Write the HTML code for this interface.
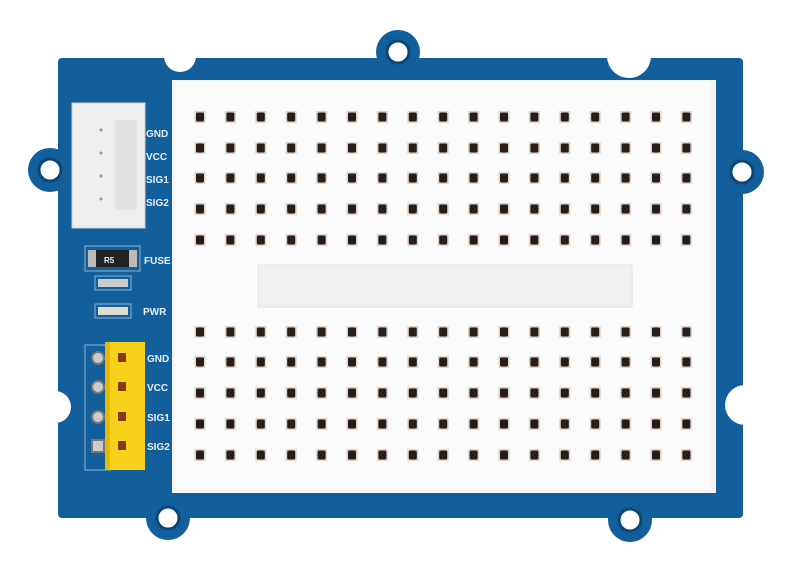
<!DOCTYPE html>
<html><head><meta charset="utf-8"><style>
html,body{margin:0;padding:0;background:#fff;}
svg{display:block}
text{font-family:"Liberation Sans",sans-serif;font-weight:bold;fill:#e8eef4;font-size:10px}
</style></head><body>
<svg width="800" height="578" viewBox="0 0 800 578" xmlns="http://www.w3.org/2000/svg">
<defs>
<g id="h"><rect x="-5.5" y="-6" width="11" height="12" fill="#d8d4cf"/><rect x="-4" y="-4.5" width="8" height="9" rx="1.5" fill="#2a1d16"/></g>
<g id="row">
<use href="#h" x="200"/><use href="#h" x="230.4"/><use href="#h" x="260.8"/><use href="#h" x="291.2"/><use href="#h" x="321.6"/><use href="#h" x="352"/><use href="#h" x="382.4"/><use href="#h" x="412.8"/><use href="#h" x="443.2"/><use href="#h" x="473.6"/><use href="#h" x="504"/><use href="#h" x="534.4"/><use href="#h" x="564.8"/><use href="#h" x="595.2"/><use href="#h" x="625.6"/><use href="#h" x="656"/><use href="#h" x="686.4"/>
</g>
</defs>
<g fill="#125f9c">
<circle cx="398" cy="52" r="22"/><circle cx="50" cy="170" r="22"/><circle cx="742" cy="172" r="22"/>
<circle cx="168" cy="518" r="22"/><circle cx="630" cy="520" r="22"/>
</g>
<rect x="58" y="58" width="685" height="460" rx="4" fill="#125f9c"/>
<g fill="#fff">
<circle cx="629" cy="56" r="22"/><circle cx="180" cy="56" r="16"/>
<circle cx="745" cy="405" r="20"/><circle cx="55" cy="407" r="16"/>
</g>
<g fill="#fff" stroke="#0a4676" stroke-width="3">
<circle cx="398" cy="52" r="11"/><circle cx="50" cy="170" r="11"/><circle cx="742" cy="172" r="11"/>
<circle cx="168" cy="518" r="11"/><circle cx="630" cy="520" r="11"/>
</g>
<rect x="172" y="80" width="544" height="413" fill="#f4f4f4"/>
<rect x="175" y="82" width="536" height="408" fill="#fbfbfb"/>
<rect x="258" y="265" width="374" height="42" fill="#f0f0f0" stroke="#e2e2e2"/>
<g>
<use href="#row" y="117"/><use href="#row" y="148"/><use href="#row" y="178"/><use href="#row" y="209"/><use href="#row" y="240"/>
<use href="#row" y="332"/><use href="#row" y="362"/><use href="#row" y="393"/><use href="#row" y="424"/><use href="#row" y="455"/>
</g>
<rect x="72" y="103" width="73" height="125" fill="#eeeeee" stroke="#cfcfcf"/>
<rect x="115" y="120" width="22" height="90" fill="#e2e2e2"/>
<g fill="#999"><circle cx="101" cy="130" r="1.5"/><circle cx="101" cy="153" r="1.5"/><circle cx="101" cy="176" r="1.5"/><circle cx="101" cy="199" r="1.5"/></g>
<text x="146" y="137">GND</text><text x="146" y="160">VCC</text><text x="146" y="183">SIG1</text><text x="146" y="206">SIG2</text>
<rect x="85" y="246" width="55" height="25" fill="none" stroke="#8fb2cf"/>
<rect x="88" y="250" width="49" height="17" fill="#222"/>
<rect x="88" y="250" width="8" height="17" fill="#bbb"/><rect x="129" y="250" width="8" height="17" fill="#bbb"/>
<text x="104" y="263" style="font-size:8px">R5</text>
<text x="144" y="264">FUSE</text>
<rect x="95" y="276" width="36" height="14" fill="none" stroke="#8fb2cf"/>
<rect x="98" y="279" width="30" height="8" fill="#ccc"/>
<rect x="95" y="304" width="36" height="14" fill="none" stroke="#8fb2cf"/>
<rect x="98" y="307" width="30" height="8" fill="#e0ddd0"/>
<text x="143" y="315">PWR</text>
<rect x="85" y="345" width="25" height="125" fill="none" stroke="#8fb2cf"/>
<g fill="#ccc" stroke="#777" stroke-width="2"><circle cx="98" cy="358" r="6"/><circle cx="98" cy="387" r="6"/><circle cx="98" cy="417" r="6"/><rect x="92" y="440" width="12" height="12"/></g>
<rect x="105" y="342" width="40" height="128" fill="#f7d21c"/>
<rect x="105" y="342" width="5" height="128" fill="#e6b800"/>
<g fill="#8a3a10"><rect x="118" y="353" width="8" height="9"/><rect x="118" y="382" width="8" height="9"/><rect x="118" y="412" width="8" height="9"/><rect x="118" y="441" width="8" height="9"/></g>
<text x="147" y="362">GND</text><text x="147" y="391">VCC</text><text x="147" y="421">SIG1</text><text x="147" y="450">SIG2</text>
</svg>
</body></html>
